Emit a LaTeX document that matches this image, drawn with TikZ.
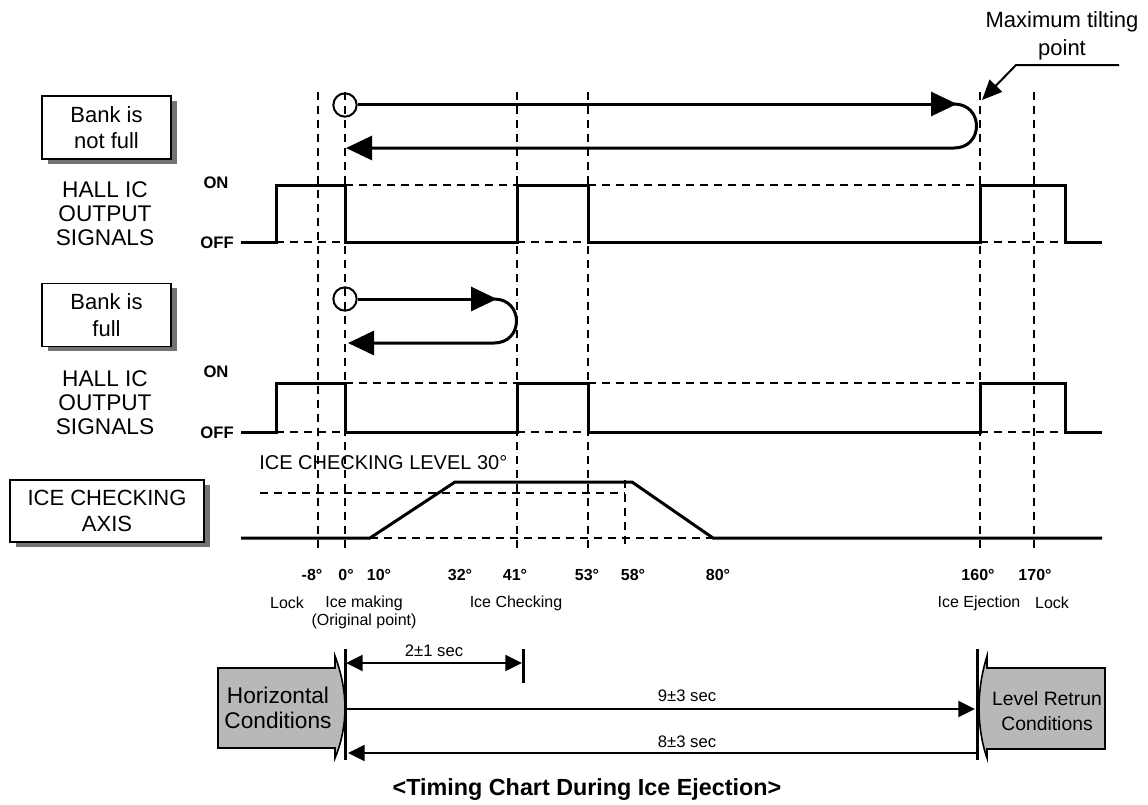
\documentclass[tikz,border=0pt]{standalone}
\usepackage{fontspec}
\setmainfont{Liberation Sans}
\usetikzlibrary{arrows.meta,shadows}
\begin{document}
\begin{tikzpicture}[x=0.75pt,y=-0.75pt,
  sig/.style={line width=2.25pt, line join=miter},
  dsh/.style={line width=1.3pt, dash pattern=on 6pt off 4.5pt},
  dimline/.style={line width=1.6pt},
  tbox/.style={draw, line width=1.1pt, fill=white, inner sep=0pt, align=center,
    font=\fontsize{16.5}{20}\selectfont,
    drop shadow={shadow xshift=4.5pt, shadow yshift=-3.5pt, fill=black!55, opacity=1}},
  big/.style={font=\fontsize{17}{18}\selectfont, align=center},
  onoff/.style={font=\bfseries\fontsize{12.5}{14}\selectfont, inner sep=0pt},
  deg/.style={font=\bfseries\fontsize{12}{14}\selectfont, inner sep=0pt},
  state/.style={font=\fontsize{12}{13.5}\selectfont, align=center, inner sep=0pt},
  dimtxt/.style={font=\fontsize{12.5}{14}\selectfont, inner sep=0pt},
  bigtip/.style={-{Triangle[length=19.5pt,width=18pt]}},
  smalltip/.style={-{Triangle[length=12.5pt,width=12pt]}},
  cond/.style={draw, line width=1.2pt, fill=black!28},
]
\useasboundingbox (0,0) rectangle (1148,804);

% ---------- vertical dashed reference lines ----------
\foreach \xx in {318,345,517,588,980,1034}{
  \draw[dsh] (\xx,92) -- (\xx,548);
}
\draw[dsh] (625,480) -- (625,548);

% ---------- maximum tilting point ----------
\node[big, font=\fontsize{16.5}{21}\selectfont] (maxtilt) at (1062,36) {Maximum tilting\\point};
\coordinate (lead0) at (1119,65);
\coordinate (lead1) at (1016,65);
\coordinate (lead2) at (982,100);
\draw[line width=1.5pt, -{Triangle[length=15pt,width=13pt]}] (lead0) -- (lead1) -- (lead2);

% ---------- row 1 : bank is not full ----------
\node[tbox, minimum width=96.75pt, minimum height=47.25pt] (bank1) at (106.5,127.5) {Bank is\\not full};
\node[big] (hall1) at (105,213.5) {HALL IC\\OUTPUT\\SIGNALS};
\node[onoff] (on1) at (216,183) {ON};
\node[onoff, anchor=east] (off1) at (234,243) {OFF};

\node[draw, circle, line width=1.5pt, minimum size=17.5pt, inner sep=0pt] (c1) at (345,105) {};
\draw[sig, bigtip] (c1.east) ++(0,-1) -- (957,104);
\draw[sig, bigtip] (954,104) .. controls (984,104) and (984,148) .. (954,148) -- (346,148);

\draw[sig] (241,242) -- (276,242) -- (276,185) -- (345,185) -- (345,242) -- (517,242) -- (517,185)
  -- (588,185) -- (588,242) -- (980,242) -- (980,185) -- (1065,185) -- (1065,242) -- (1102,242);
\draw[dsh] (345,185) -- (517,185);
\draw[dsh] (588,185) -- (980,185);
\draw[dsh] (276,242) -- (345,242);
\draw[dsh] (517,242) -- (588,242);
\draw[dsh] (980,242) -- (1065,242);

% ---------- row 2 : bank is full ----------
\node[tbox, minimum width=96.75pt, minimum height=47.25pt] (bank2) at (106.5,315) {Bank is\\full};
\node[big] (hall2) at (105,403) {HALL IC\\OUTPUT\\SIGNALS};
\node[onoff] (on2) at (216,372) {ON};
\node[onoff, anchor=east] (off2) at (234,433) {OFF};

\node[draw, circle, line width=1.5pt, minimum size=17.5pt, inner sep=0pt] (c2) at (345,299) {};
\draw[sig, bigtip] (c2.east) -- (497,299);
\draw[sig, bigtip] (494,299) .. controls (524,299) and (524,343) .. (494,343) -- (348,343);

\draw[sig] (241,432) -- (276,432) -- (276,383) -- (345,383) -- (345,432) -- (517,432) -- (517,383)
  -- (588,383) -- (588,432) -- (980,432) -- (980,383) -- (1065,383) -- (1065,432) -- (1102,432);
\draw[dsh] (345,383) -- (517,383);
\draw[dsh] (588,383) -- (980,383);
\draw[dsh] (276,432) -- (345,432);
\draw[dsh] (517,432) -- (588,432);
\draw[dsh] (980,432) -- (1065,432);

% ---------- ice checking axis ----------
\node[tbox, minimum width=145.5pt, minimum height=46.5pt] (icebox) at (107,511) {ICE CHECKING\\AXIS};
\node[font=\fontsize{15}{16}\selectfont, anchor=west, inner sep=0pt] (icelevel) at (259,463) {ICE CHECKING LEVEL 30°};
\draw[sig] (241,538) -- (370,538) -- (455,482) -- (632,482) -- (713,538) -- (1102,538);
\draw[dsh] (370,538) -- (713,538);
\draw[dsh] (260,493) -- (625,493);

% ---------- angle labels ----------
\node[deg] (dm8) at (312,575) {-8°};
\node[deg] (d0) at (346,575) {0°};
\node[deg] (d10) at (379,575) {10°};
\node[deg] (d32) at (460,575) {32°};
\node[deg] (d41) at (515,575) {41°};
\node[deg] (d53) at (587,575) {53°};
\node[deg] (d58) at (633,575) {58°};
\node[deg] (d80) at (718,575) {80°};
\node[deg] (d160) at (978,575) {160°};
\node[deg] (d170) at (1035,575) {170°};

\node[state] (slock1) at (287,603) {Lock};
\node[state] (smake) at (364,612) {Ice making\\(Original point)};
\node[state] (scheck) at (516,603) {Ice Checking};
\node[state] (seject) at (979,603) {Ice Ejection};
\node[state] (slock2) at (1052,603) {Lock};

% ---------- bottom timing ----------
\draw[cond] (218,668) -- (335,668) -- (335,656) .. controls (341,672) and (345,690) .. (345,708)
  .. controls (345,726) and (341,744) .. (335,758) -- (335,748) -- (218,748) -- cycle;
\node[font=\fontsize{17}{19}\selectfont, align=center, inner sep=0pt] (horiz) at (278,708) {Horizontal\\Conditions};

\draw[cond] (1105,668) -- (987,668) -- (987,656) .. controls (982,672) and (979,690) .. (979,708)
  .. controls (979,726) and (982,744) .. (987,758) -- (987,749) -- (1105,749) -- cycle;
\node[font=\fontsize{14.5}{18.5}\selectfont, align=center, inner sep=0pt] (levret) at (1047,711) {Level Retrun\\Conditions};

\coordinate (b0t) at (345,649);
\coordinate (b0b) at (345,760);
\coordinate (b1t) at (977,649);
\coordinate (b1b) at (977,760);
\coordinate (t2t) at (523,649);
\coordinate (t2b) at (523,683);
\draw[sig] (b0t) -- (b0b);
\draw[sig] (b1t) -- (b1b);
\draw[sig] (t2t) -- (t2b);

\draw[dimline, {Triangle[length=12.5pt,width=12pt]}-{Triangle[length=12.5pt,width=12pt]}] (346,663) -- (522,663);
\node[dimtxt] (t21) at (434,651) {2±1 sec};
\draw[dimline, smalltip] (345,709) -- (975,709);
\node[dimtxt] (t93) at (687,696) {9±3 sec};
\draw[dimline, smalltip] (977,753) -- (348,753);
\node[dimtxt] (t83) at (687,742) {8±3 sec};

\node[font=\bfseries\fontsize{17.5}{19}\selectfont, inner sep=0pt] (title) at (587,790) {<Timing Chart During Ice Ejection>};
\end{tikzpicture}
\end{document}
